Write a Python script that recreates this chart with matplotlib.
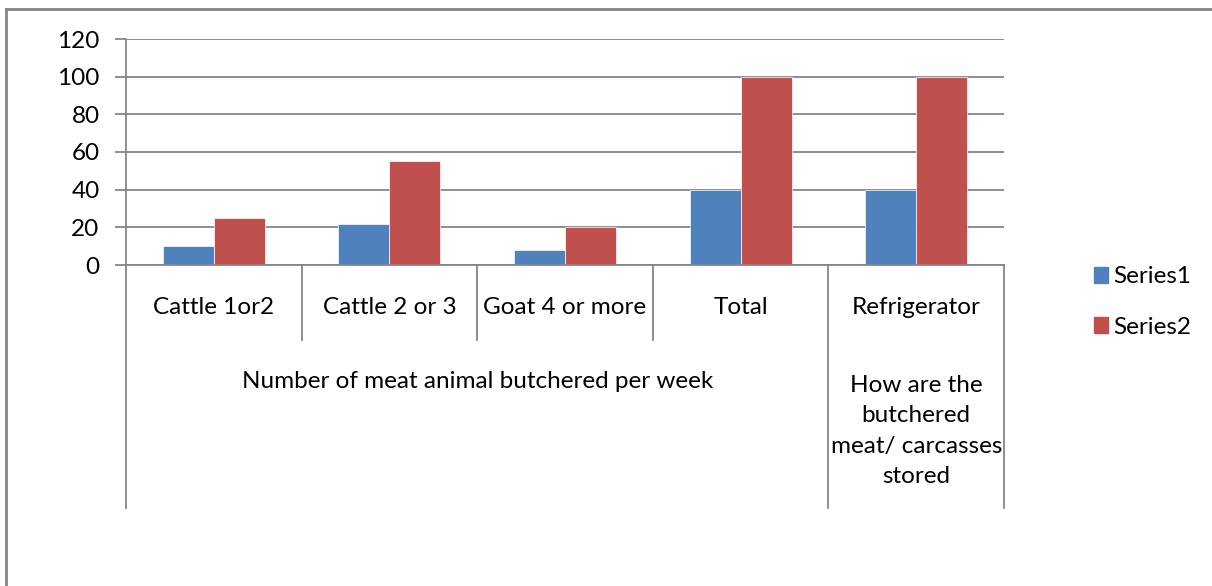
import matplotlib
matplotlib.use("Agg")
import matplotlib.pyplot as plt
from matplotlib.lines import Line2D
from matplotlib.patches import Patch
import numpy as np

categories = ["Cattle 1or2", "Cattle 2 or 3", "Goat 4 or more", "Total", "Refrigerator"]
groups = ["Number of meat animal butchered per week",
          "How are the\nbutchered\nmeat/ carcasses\nstored"]
group_spans = [(0, 3), (4, 4)]
series1 = [10, 22, 8, 40, 40]
series2 = [25, 55, 20, 100, 100]
series_names = ["Series1", "Series2"]
yticks = [0, 20, 40, 60, 80, 100, 120]

BLUE = "#4f81bd"
RED = "#c0504d"
GRID = "#868686"

plt.rcParams["font.family"] = ["Lato", "DejaVu Sans"]
plt.rcParams["font.size"] = 17.5

W, H = 1212, 586
fig = plt.figure(figsize=(W / 100, H / 100), dpi=100)

# outer chart border (left and top only visible)
fig.add_artist(Line2D([5.5 / W, 5.5 / W], [0, 1 - 9 / H], color=GRID, lw=2, transform=fig.transFigure))
fig.add_artist(Line2D([5.5 / W, 1], [1 - 9 / H, 1 - 9 / H], color=GRID, lw=2, transform=fig.transFigure))

left, right, top, bottom = 126, 1004, 39, 265
ax = fig.add_axes([left / W, 1 - bottom / H, (right - left) / W, (bottom - top) / H])
ah = bottom - top

x = np.arange(len(categories))
bw = 0.29
ax.bar(x - bw / 2, series1, bw, color=BLUE, edgecolor="white", linewidth=0.5, zorder=3)
ax.bar(x + bw / 2, series2, bw, color=RED, edgecolor="white", linewidth=0.5, zorder=3)

ax.set_xlim(-0.5, len(categories) - 0.5)
ax.set_ylim(0, 120)
ax.set_yticks(yticks)
ax.tick_params(axis="y", length=8, color=GRID, width=1.3, pad=11)
ax.set_xticks([])
ax.yaxis.grid(True, color=GRID, linewidth=1.3, zorder=0)
for s in ["top", "right", "bottom"]:
    ax.spines[s].set_visible(False)
ax.spines["left"].set_color(GRID)
ax.spines["left"].set_linewidth(1.3)
ax.axhline(0, color=GRID, linewidth=1.3, zorder=4, clip_on=False)

tr = ax.get_xaxis_transform()
short_y = (bottom - 340) / ah
long_y = (bottom - 508) / ah
label_y = (bottom - 307) / ah
group_label_y = (bottom - 382) / ah
group2_y = (bottom - 431) / ah

# category separators
long_edges = {-0.5}
for a, b in group_spans:
    long_edges.add(b + 0.5)
for e in np.arange(-0.5, len(categories), 1.0):
    yb = long_y if e in long_edges else short_y
    ax.add_artist(Line2D([e, e], [0, yb], color=GRID, lw=1.3, transform=tr, clip_on=False))

for i, c in enumerate(categories):
    ax.text(i, label_y, c, transform=tr, ha="center", va="center")

(a0, b0), (a1, b1) = group_spans
ax.text((a0 + b0) / 2, group_label_y, groups[0], transform=tr, ha="center", va="center")
ax.text((a1 + b1) / 2, group2_y, groups[1], transform=tr, ha="center", va="center", linespacing=1.55)

handles = [Patch(color=BLUE), Patch(color=RED)]
fig.legend(handles, series_names, loc="center left", bbox_to_anchor=(1072 / W, 1 - 302 / H),
           frameon=False, handlelength=0.6, handleheight=0.6, handletextpad=0.2, labelspacing=1.2,
           fontsize=17.5)

fig.savefig("out.png", dpi=100)
